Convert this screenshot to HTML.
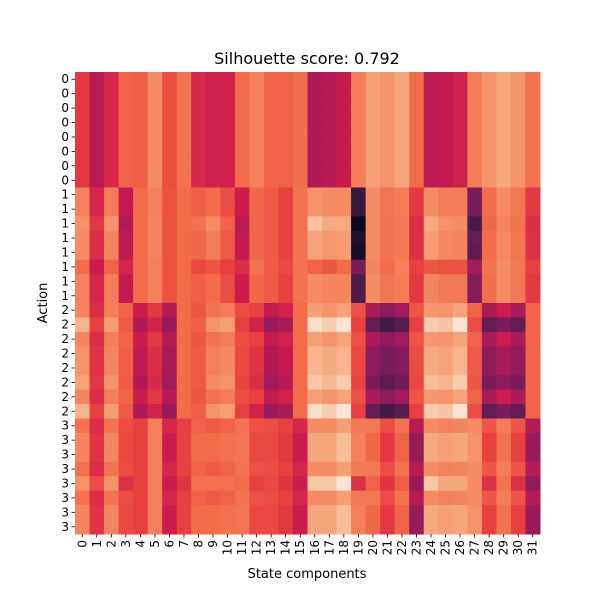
<!DOCTYPE html>
<html><head><meta charset="utf-8"><style>
body{margin:0;background:#fff;font-family:"DejaVu Sans","Liberation Sans",sans-serif}
</style></head><body>
<svg id="chart" width="600" height="600" xmlns="http://www.w3.org/2000/svg" font-family="DejaVu Sans, Liberation Sans, sans-serif">
<text x="307" y="64" font-size="16" text-anchor="middle">Silhouette score: 0.792</text>
<g id="cells"></g>
<g id="yticks"></g>
<g id="xticks"></g>
<text x="307" y="578" font-size="13" text-anchor="middle">State components</text>
<text x="0" y="0" font-size="13" text-anchor="middle" transform="translate(47,303) rotate(-90)">Action</text>
</svg>
<script>
const rowLabels=[0,0,0,0,0,0,0,0,1,1,1,1,1,1,1,1,2,2,2,2,2,2,2,2,3,3,3,3,3,3,3,3];
const colLabels=[...Array(32).keys()];
const c0=[0.58,0.46,0.54,0.68,0.67,0.8,0.63,0.72,0.54,0.51,0.51,0.7,0.76,0.68,0.68,0.71,0.44,0.45,0.49,0.75,0.85,0.82,0.87,0.7,0.46,0.48,0.51,0.75,0.82,0.87,0.82,0.72];
const r8=[0.77,0.53,0.75,0.48,0.7,0.76,0.64,0.7,0.67,0.7,0.63,0.5,0.69,0.66,0.6,0.72,0.82,0.8,0.8,0.15,0.8,0.73,0.75,0.58,0.8,0.75,0.75,0.3,0.71,0.8,0.74,0.58];
const r10=[0.82,0.58,0.82,0.44,0.7,0.77,0.64,0.7,0.72,0.8,0.68,0.46,0.69,0.66,0.6,0.72,0.93,0.88,0.88,0.02,0.8,0.72,0.74,0.55,0.88,0.82,0.8,0.18,0.68,0.78,0.72,0.55];
const r11=[0.8,0.55,0.78,0.47,0.7,0.77,0.64,0.7,0.69,0.75,0.66,0.48,0.69,0.66,0.6,0.72,0.86,0.83,0.84,0.08,0.8,0.72,0.74,0.56,0.84,0.79,0.78,0.25,0.7,0.79,0.73,0.56];
const r12=[0.8,0.55,0.78,0.47,0.7,0.77,0.64,0.7,0.69,0.75,0.66,0.48,0.69,0.66,0.6,0.72,0.86,0.83,0.84,0.06,0.8,0.72,0.74,0.56,0.84,0.79,0.78,0.24,0.7,0.79,0.73,0.56];
const r13=[0.7,0.5,0.68,0.53,0.7,0.76,0.64,0.7,0.62,0.65,0.6,0.55,0.72,0.66,0.62,0.72,0.68,0.65,0.7,0.3,0.78,0.7,0.76,0.6,0.65,0.64,0.64,0.4,0.72,0.8,0.74,0.6];
const r14=[0.77,0.53,0.75,0.48,0.7,0.76,0.64,0.7,0.67,0.7,0.63,0.5,0.69,0.66,0.6,0.72,0.8,0.78,0.78,0.2,0.8,0.73,0.75,0.58,0.78,0.74,0.74,0.33,0.71,0.8,0.74,0.58];
const r16=[0.78,0.55,0.75,0.68,0.5,0.58,0.45,0.7,0.65,0.72,0.75,0.63,0.6,0.48,0.52,0.7,0.85,0.82,0.86,0.64,0.42,0.35,0.4,0.65,0.83,0.82,0.86,0.68,0.42,0.5,0.42,0.68];
const r17=[0.9,0.6,0.85,0.66,0.43,0.52,0.38,0.7,0.67,0.82,0.85,0.6,0.52,0.38,0.42,0.7,0.98,0.95,0.99,0.6,0.25,0.18,0.22,0.6,0.95,0.93,0.99,0.63,0.25,0.3,0.25,0.68];
const r19=[0.82,0.57,0.78,0.67,0.47,0.55,0.42,0.7,0.66,0.76,0.79,0.62,0.57,0.44,0.48,0.7,0.9,0.88,0.9,0.62,0.35,0.3,0.33,0.63,0.88,0.86,0.9,0.66,0.35,0.42,0.36,0.68];
const r21=[0.86,0.58,0.82,0.66,0.44,0.54,0.4,0.7,0.66,0.8,0.82,0.61,0.55,0.4,0.45,0.7,0.94,0.91,0.95,0.61,0.3,0.24,0.28,0.62,0.92,0.9,0.95,0.65,0.3,0.35,0.3,0.68];
const r24=[0.72,0.55,0.72,0.63,0.6,0.76,0.53,0.6,0.68,0.66,0.68,0.72,0.64,0.63,0.6,0.53,0.8,0.8,0.85,0.74,0.74,0.63,0.72,0.45,0.8,0.77,0.78,0.8,0.65,0.75,0.65,0.45];
const r25=[0.78,0.57,0.78,0.62,0.6,0.76,0.5,0.6,0.7,0.7,0.72,0.73,0.62,0.62,0.58,0.5,0.87,0.87,0.92,0.76,0.69,0.58,0.68,0.37,0.88,0.85,0.87,0.82,0.6,0.72,0.6,0.38];
const r28=[0.82,0.63,0.82,0.56,0.6,0.76,0.5,0.57,0.72,0.72,0.72,0.7,0.6,0.62,0.57,0.5,0.94,0.94,0.99,0.56,0.68,0.57,0.67,0.37,0.94,0.87,0.87,0.8,0.56,0.72,0.56,0.35];
const values=[c0,c0,c0,c0,c0,c0,c0,c0,r8,r8,r10,r11,r12,r13,r14,r14,r16,r17,r16,r19,r19,r21,r16,r17,r24,r25,r25,r24,r28,r24,r25,r25];
const stops=[[0,[3,5,26]],[0.1,[34,19,49]],[0.2,[76,29,75]],[0.3,[120,28,92]],[0.4,[161,26,91]],[0.5,[203,27,79]],[0.6,[232,63,63]],[0.7,[242,108,74]],[0.8,[245,140,100]],[0.88,[246,170,128]],[0.95,[248,205,175]],[1,[250,235,221]]];
function cmap(v){v=Math.max(0,Math.min(1,v));for(let i=1;i<stops.length;i++){if(v<=stops[i][0]){const a=stops[i-1],b=stops[i],t=(v-a[0])/(b[0]-a[0]);return 'rgb('+a[1].map((x,k)=>Math.round(x+(b[1][k]-x)*t)).join(',')+')';}}return 'rgb(250,235,221)';}
const X0=75,X1=540,Y0=72,Y1=534;
const cw=(X1-X0)/colLabels.length, ch=(Y1-Y0)/rowLabels.length;
function xPos(j){return X0+j*cw;} function yPos(i){return Y0+i*ch;}
const NS='http://www.w3.org/2000/svg';
const cells=document.getElementById('cells');
values.forEach((row,i)=>row.forEach((v,j)=>{
 const r=document.createElementNS(NS,'rect');
 r.setAttribute('x',xPos(j));r.setAttribute('y',yPos(i));
 r.setAttribute('width',cw+0.5);r.setAttribute('height',ch+0.5);
 r.setAttribute('fill',cmap(v));
 
 
 cells.appendChild(r);
}));
const yt=document.getElementById('yticks');
rowLabels.forEach((l,i)=>{
 const y=yPos(i)+ch/2;
 const ln=document.createElementNS(NS,'line');
 ln.setAttribute('x1',X0-3.5);ln.setAttribute('x2',X0);ln.setAttribute('y1',y);ln.setAttribute('y2',y);ln.setAttribute('stroke','#000');ln.setAttribute('stroke-width','0.8');
 
 
 yt.appendChild(ln);
 const t=document.createElementNS(NS,'text');
 t.setAttribute('x',X0-6);t.setAttribute('y',y+4);t.setAttribute('font-size','12');t.setAttribute('text-anchor','end');
 t.textContent=l;
 
 
 yt.appendChild(t);
});
const xt=document.getElementById('xticks');
colLabels.forEach((l,j)=>{
 const x=xPos(j)+cw/2;
 const ln=document.createElementNS(NS,'line');
 ln.setAttribute('x1',x);ln.setAttribute('x2',x);ln.setAttribute('y1',Y1);ln.setAttribute('y2',Y1+3.5);ln.setAttribute('stroke','#000');ln.setAttribute('stroke-width','0.8');
 
 
 xt.appendChild(ln);
 const t=document.createElementNS(NS,'text');
 t.setAttribute('transform','translate('+(x+4)+','+(Y1+6)+') rotate(-90)');
 t.setAttribute('font-size','12');t.setAttribute('text-anchor','end');
 t.textContent=l;
 
 
 xt.appendChild(t);
});
</script>
</body></html>
